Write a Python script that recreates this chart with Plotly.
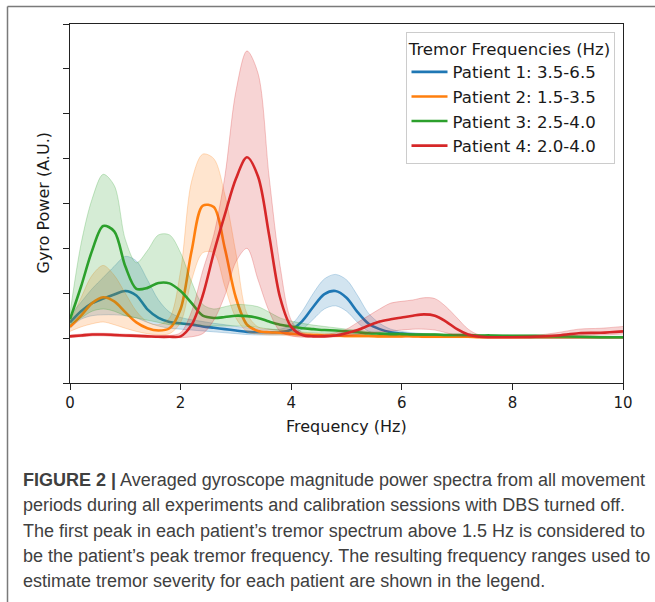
import plotly.graph_objects as go

# ---------------- data ----------------
freq = [0.0, 0.2, 0.4, 0.6, 0.8, 1.0, 1.2, 1.4, 1.6, 1.8, 2.0, 2.2, 2.4, 2.6, 2.8,
        3.0, 3.2, 3.4, 3.6, 3.8, 4.0, 4.2, 4.4, 4.6, 4.8, 5.0, 5.2, 5.4, 5.6, 5.8,
        6.0, 6.2, 6.4, 6.6, 6.8, 7.0, 7.2, 7.4, 7.6, 8.0, 8.4, 8.8, 9.2, 9.6, 10.0]

labels = ["Patient 1: 3.5-6.5", "Patient 2: 1.5-3.5", "Patient 3: 2.5-4.0", "Patient 4: 2.0-4.0"]

p1_mean = [0.35, 0.60, 0.78, 0.88, 0.97, 1.05, 0.95, 0.64, 0.45, 0.36, 0.33, 0.30, 0.26, 0.23, 0.20,
           0.17, 0.14, 0.13, 0.13, 0.13, 0.19, 0.38, 0.70, 0.98, 1.05, 0.90, 0.58, 0.32, 0.20, 0.13,
           0.10, 0.08, 0.07, 0.06, 0.05, 0.04, 0.04, 0.03, 0.03, 0.03, 0.02, 0.02, 0.02, 0.02, 0.02]
p1_upper = [0.50, 0.80, 1.10, 1.35, 1.60, 1.82, 1.72, 1.30, 0.85, 0.58, 0.46, 0.41, 0.37, 0.33, 0.30,
            0.26, 0.23, 0.21, 0.20, 0.20, 0.30, 0.60, 1.00, 1.32, 1.42, 1.30, 0.95, 0.55, 0.33, 0.20,
            0.15, 0.12, 0.10, 0.09, 0.08, 0.07, 0.06, 0.06, 0.05, 0.05, 0.04, 0.04, 0.04, 0.04, 0.04]
p1_lower = [0.22, 0.42, 0.50, 0.52, 0.52, 0.50, 0.45, 0.35, 0.27, 0.22, 0.20, 0.18, 0.16, 0.14, 0.12,
            0.10, 0.08, 0.07, 0.07, 0.07, 0.10, 0.20, 0.42, 0.65, 0.72, 0.60, 0.35, 0.15, 0.09, 0.06,
            0.05, 0.04, 0.04, 0.03, 0.03, 0.02, 0.02, 0.01, 0.01, 0.01, 0.01, 0.01, 0.01, 0.01, 0.01]

p2_mean = [0.25, 0.50, 0.78, 0.91, 0.82, 0.58, 0.35, 0.22, 0.17, 0.22, 0.65, 1.95, 2.95, 2.92, 2.00,
           0.90, 0.30, 0.16, 0.13, 0.12, 0.10, 0.08, 0.07, 0.06, 0.06, 0.05, 0.05, 0.05, 0.04, 0.04,
           0.04, 0.04, 0.03, 0.03, 0.03, 0.03, 0.03, 0.02, 0.02, 0.02, 0.02, 0.02, 0.02, 0.02, 0.02]
p2_upper = [0.35, 0.90, 1.40, 1.62, 1.40, 1.00, 0.60, 0.36, 0.30, 0.45, 1.50, 3.50, 4.10, 4.00, 3.20,
            1.90, 0.55, 0.25, 0.20, 0.18, 0.16, 0.13, 0.11, 0.10, 0.09, 0.08, 0.08, 0.07, 0.07, 0.06,
            0.06, 0.06, 0.05, 0.05, 0.05, 0.05, 0.04, 0.04, 0.04, 0.04, 0.03, 0.03, 0.03, 0.03, 0.03]
p2_lower = [0.15, 0.25, 0.32, 0.36, 0.30, 0.22, 0.15, 0.10, 0.08, 0.10, 0.35, 1.30, 1.90, 1.90, 1.15,
            0.45, 0.15, 0.09, 0.07, 0.07, 0.05, 0.04, 0.04, 0.03, 0.03, 0.02, 0.02, 0.02, 0.02, 0.02,
            0.02, 0.02, 0.01, 0.01, 0.01, 0.01, 0.01, 0.01, 0.01, 0.01, 0.01, 0.01, 0.01, 0.01, 0.01]

p3_mean = [0.42, 1.15, 1.95, 2.50, 2.38, 1.60, 1.10, 1.12, 1.23, 1.22, 1.05, 0.78, 0.50, 0.45, 0.47,
           0.50, 0.49, 0.45, 0.37, 0.30, 0.26, 0.22, 0.20, 0.18, 0.17, 0.15, 0.13, 0.11, 0.10, 0.09,
           0.09, 0.08, 0.08, 0.08, 0.07, 0.07, 0.07, 0.06, 0.06, 0.05, 0.05, 0.04, 0.03, 0.02, 0.02]
p3_upper = [0.55, 2.10, 3.10, 3.65, 3.40, 2.20, 1.68, 1.95, 2.30, 2.30, 1.90, 1.25, 0.75, 0.65, 0.70,
            0.75, 0.74, 0.70, 0.58, 0.45, 0.38, 0.33, 0.29, 0.26, 0.23, 0.20, 0.18, 0.15, 0.13, 0.12,
            0.11, 0.10, 0.10, 0.10, 0.09, 0.09, 0.09, 0.08, 0.08, 0.07, 0.07, 0.06, 0.05, 0.04, 0.04]
p3_lower = [0.30, 0.45, 0.60, 0.65, 0.60, 0.50, 0.45, 0.40, 0.35, 0.30, 0.30, 0.30, 0.28, 0.27, 0.27,
            0.27, 0.26, 0.24, 0.20, 0.17, 0.15, 0.13, 0.12, 0.11, 0.11, 0.10, 0.09, 0.08, 0.07, 0.07,
            0.07, 0.06, 0.06, 0.06, 0.05, 0.05, 0.05, 0.05, 0.05, 0.04, 0.04, 0.03, 0.02, 0.01, 0.01]

p4_mean = [0.04, 0.06, 0.08, 0.08, 0.07, 0.06, 0.05, 0.04, 0.03, 0.03, 0.04, 0.30, 0.95, 1.90, 2.75,
           3.55, 4.03, 3.60, 2.30, 0.90, 0.25, 0.07, 0.04, 0.04, 0.06, 0.11, 0.18, 0.28, 0.37, 0.42,
           0.46, 0.50, 0.53, 0.50, 0.37, 0.20, 0.08, 0.03, 0.02, 0.02, 0.03, 0.06, 0.11, 0.12, 0.15]
p4_upper = [0.07, 0.09, 0.11, 0.11, 0.10, 0.09, 0.08, 0.07, 0.06, 0.06, 0.12, 0.60, 1.50, 2.30, 3.60,
            5.50, 6.40, 5.90, 3.60, 1.60, 0.40, 0.12, 0.07, 0.08, 0.12, 0.20, 0.35, 0.50, 0.65, 0.78,
            0.82, 0.85, 0.90, 0.88, 0.70, 0.45, 0.20, 0.07, 0.04, 0.04, 0.06, 0.12, 0.20, 0.22, 0.26]
p4_lower = [0.02, 0.03, 0.05, 0.05, 0.04, 0.03, 0.03, 0.02, 0.01, 0.01, 0.01, 0.03, 0.10, 0.40, 0.95,
            1.70, 2.00, 1.30, 0.60, 0.15, 0.05, 0.02, 0.02, 0.02, 0.03, 0.05, 0.08, 0.11, 0.14, 0.16,
            0.18, 0.20, 0.20, 0.18, 0.12, 0.06, 0.03, 0.01, 0.01, 0.01, 0.01, 0.03, 0.06, 0.07, 0.09]

x_ticks = [0, 2, 4, 6, 8, 10]
x_tick_labels = ["0", "2", "4", "6", "8", "10"]
y_ticks = [-1, 0, 1, 2, 3, 4, 5, 6, 7]

caption_lines = [
    "<b>FIGURE 2 |</b> Averaged gyroscope magnitude power spectra from all movement",
    "periods during all experiments and calibration sessions with DBS turned off.",
    "The first peak in each patient\u2019s tremor spectrum above 1.5 Hz is considered to",
    "be the patient\u2019s peak tremor frequency. The resulting frequency ranges used to",
    "estimate tremor severity for each patient are shown in the legend.",
]

colors = ["31,119,180", "255,127,14", "44,160,44", "214,39,40"]
means = [p1_mean, p2_mean, p3_mean, p4_mean]
uppers = [p1_upper, p2_upper, p3_upper, p4_upper]
lowers = [p1_lower, p2_lower, p3_lower, p4_lower]

# ---------------- layout geometry (pixels) ----------------
W, H = 655, 602
L, R, T, B = 70, 623, 24, 383
PW, PH = R - L, B - T


def px(xp):
    return (xp - L) / PW


def py(yp):
    return (B - yp) / PH


fig = go.Figure()
SM = 0.9
for i in range(4):
    c = colors[i]
    fig.add_trace(go.Scatter(
        x=freq, y=lowers[i], mode="lines",
        line=dict(color=f"rgba({c},0.25)", width=1, shape="spline", smoothing=SM),
        showlegend=False, hoverinfo="skip"))
    fig.add_trace(go.Scatter(
        x=freq, y=uppers[i], mode="lines", fill="tonexty",
        fillcolor=f"rgba({c},0.2)",
        line=dict(color=f"rgba({c},0.25)", width=1, shape="spline", smoothing=SM),
        showlegend=False, hoverinfo="skip"))
    fig.add_trace(go.Scatter(
        x=freq, y=means[i], mode="lines", name=labels[i],
        line=dict(color=f"rgb({c})", width=2.6, shape="spline", smoothing=SM)))

DARK = "#1a1a1a"
FONT = "DejaVu Sans"

annotations = [
    dict(text="Frequency (Hz)", x=px((L + R) / 2), y=py(426), xref="paper", yref="paper",
         xanchor="center", yanchor="middle", showarrow=False,
         font=dict(family=FONT, size=16, color=DARK)),
    dict(text="Gyro Power (A.U.)", x=px(43), y=py((T + B) / 2), xref="paper", yref="paper",
         xanchor="center", yanchor="middle", showarrow=False, textangle=-90,
         font=dict(family=FONT, size=16, color=DARK)),
]
cap_y = [480, 505, 531, 556, 581]
for line, yy in zip(caption_lines, cap_y):
    annotations.append(dict(
        text=line, x=px(21), y=py(yy), xref="paper", yref="paper",
        xanchor="left", yanchor="middle", showarrow=False,
        font=dict(family="Liberation Sans", size=18, color="#404040")))

shapes = [
    dict(type="line", xref="paper", yref="paper", x0=px(7.5), x1=px(660), y0=py(6.5), y1=py(6.5),
         line=dict(color="#7a7a7a", width=1.5)),
    dict(type="line", xref="paper", yref="paper", x0=px(7.5), x1=px(7.5), y0=py(6.5), y1=py(610),
         line=dict(color="#7a7a7a", width=1.5)),
]

fig.update_layout(
    width=W, height=H,
    margin=dict(l=L, r=W - R, t=T, b=H - B, pad=0),
    paper_bgcolor="white", plot_bgcolor="white",
    showlegend=True,
    legend=dict(
        x=px(614.5), y=py(32), xanchor="right", yanchor="top",
        traceorder="normal",
        bgcolor="rgba(255,255,255,0.85)", bordercolor="#cccccc", borderwidth=1,
        font=dict(family=FONT, size=16.6, color=DARK),
        title=dict(text="Tremor Frequencies (Hz)", side="top center",
                   font=dict(family=FONT, size=16.6, color=DARK)),
        itemwidth=36,
    ),
    xaxis=dict(
        range=[0, 10], tickvals=x_ticks, ticktext=x_tick_labels,
        showgrid=False, zeroline=False, showline=True, linecolor="#222222", linewidth=1.3,
        mirror=True, ticks="outside", ticklen=6, tickwidth=1.3, tickcolor="#222222",
        tickfont=dict(family=FONT, size=15, color=DARK),
    ),
    yaxis=dict(
        range=[-1, 7], tickvals=y_ticks, showticklabels=False,
        showgrid=False, zeroline=False, showline=True, linecolor="#222222", linewidth=1.3,
        mirror=True, ticks="outside", ticklen=6, tickwidth=1.3, tickcolor="#222222",
    ),
    annotations=annotations,
    shapes=shapes,
)

fig.write_html("out.html")
